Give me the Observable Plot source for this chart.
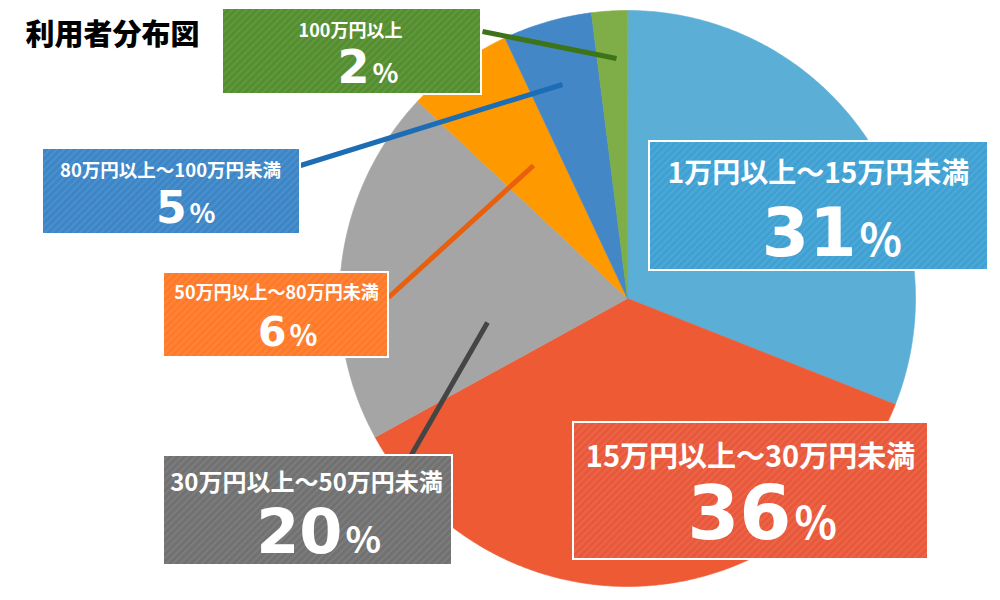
<!DOCTYPE html>
<html><head><meta charset="utf-8">
<script src="https://cdn.jsdelivr.net/npm/d3@7"></script>
<script src="https://cdn.jsdelivr.net/npm/@observablehq/plot@0.6"></script>
<style>body{margin:0;background:#fff;overflow:hidden}</style>
</head><body><div id="chart"></div>
<script>
// ---- data ----
const title = "利用者分布図";
const categories = ["1万円以上～15万円未満","15万円以上～30万円未満","30万円以上～50万円未満","50万円以上～80万円未満","80万円以上～100万円未満","100万円以上"];
const shares = [31, 36, 20, 6, 5, 2];
const sliceColors = ["#5BAED6","#EE5A34","#A5A5A5","#FF9900","#4387C7","#7FAD47"];
const boxColors   = ["#3FA1D3","#E9583A","#717171","#FF7A28","#3C85C7","#548E2F"];
const leaderColors = [null, null, "#454545", "#E8600E", "#1D6DB5", "#3E7418"];

// ---- layout (pixel-like data units) ----
const cx = 627, cy = 298, R = 288;
const boxes = [
  {x1:649,x2:988,y1:141,y2:270, catX:818, catY:182, catSize:28, numY:255, numSize:68, pctSize:44, split:856},
  {x1:573,x2:928,y1:422,y2:559, catX:750, catY:466, catSize:29, numY:538, numSize:75, pctSize:44, split:791},
  {x1:163,x2:452,y1:455,y2:565, catX:306, catY:490, catSize:24, numY:552, numSize:62, pctSize:37, split:342},
  {x1:163,x2:388,y1:272,y2:357, catX:276, catY:298, catSize:18, numY:345, numSize:41, pctSize:29, split:286},
  {x1:42, x2:300,y1:148,y2:234, catX:170, catY:176, catSize:18.5, numY:222, numSize:44, pctSize:27, split:186},
  {x1:222,x2:481,y1:8,  y2:94,  catX:350, catY:36,  catSize:18, numY:82,  numSize:46, pctSize:27, split:369}
];
const leaders = [null, null,
  {x1:410,y1:456,x2:487,y2:322},
  {x1:388,y1:297,x2:533,y2:165},
  {x1:300,y1:165,x2:562,y2:84},
  {x1:482,y1:31, x2:616,y2:58}
];

// ---- slices ----
let cum = 0;
const total = d3.sum(shares);
const slices = shares.map((v, i) => {
  const a0 = cum / total * 2 * Math.PI; cum += v;
  const a1 = cum / total * 2 * Math.PI;
  const n = Math.max(2, Math.ceil((a1 - a0) / (Math.PI / 360)));
  const pts = [{x: cx, y: cy}];
  for (let k = 0; k <= n; k++) {
    const a = a0 + (a1 - a0) * k / n;
    pts.push({x: cx + R * Math.sin(a), y: cy - R * Math.cos(a)});
  }
  return pts;
});

const font = "'Noto Sans CJK JP', 'Noto Sans', sans-serif";
const numFont = "'DejaVu Sans', 'Noto Sans', sans-serif";
const marks = [];
slices.forEach((pts, i) => marks.push(Plot.line(pts, {x:"x", y:"y", fill: sliceColors[i], stroke: sliceColors[i], strokeWidth: 0.6, curve: "linear-closed"})));
leaders.forEach((l, i) => { if (l) marks.push(Plot.link([l], {x1:"x1", y1:"y1", x2:"x2", y2:"y2", stroke: leaderColors[i], strokeWidth: 5})); });
boxes.forEach((b, i) => {
  marks.push(Plot.rect([b], {x1:"x1", x2:"x2", y1:"y1", y2:"y2", fill: boxColors[i]}));
  marks.push(Plot.rect([b], {x1:"x1", x2:"x2", y1:"y1", y2:"y2", fill: "url(#hatch)", stroke: "white", strokeWidth: 2}));
  marks.push(Plot.text([b], {x:"catX", y:"catY", text: () => categories[i], fill:"white", fontSize: b.catSize, fontWeight:"bold", fontFamily: font, lineAnchor:"bottom", textAnchor:"middle"}));
  marks.push(Plot.text([b], {x:"split", y:"numY", text: () => String(shares[i]), fill:"white", fontSize: b.numSize, fontWeight:"bold", fontFamily: numFont, lineAnchor:"bottom", textAnchor:"end"}));
  marks.push(Plot.text([b], {x: d => d.split + 3, y:"numY", text: () => "%", fill:"white", fontSize: b.pctSize, fontWeight:"bold", fontFamily: font, lineAnchor:"bottom", textAnchor:"start"}));
});
marks.push(Plot.text([{x:25, y:44}], {x:"x", y:"y", text: () => title, fill:"black", fontSize: 29, fontWeight: 900, fontFamily: font, lineAnchor:"bottom", textAnchor:"start"}));

const plot = Plot.plot({
  width: 1000, height: 600, margin: 0,
  x: {domain: [0, 1000], range: [0, 1000], axis: null},
  y: {domain: [0, 600], range: [0, 600], axis: null},
  style: {fontFamily: font, background: "white"},
  marks
});
const svg = d3.select(plot);
const defs = svg.insert("defs", ":first-child");
const p = defs.append("pattern").attr("id", "hatch").attr("patternUnits", "userSpaceOnUse")
  .attr("width", 5).attr("height", 5).attr("patternTransform", "rotate(45)");
p.append("rect").attr("width", 2).attr("height", 5).attr("fill", "white").attr("fill-opacity", 0.08);
document.getElementById("chart").appendChild(plot);
</script>
</body></html>
